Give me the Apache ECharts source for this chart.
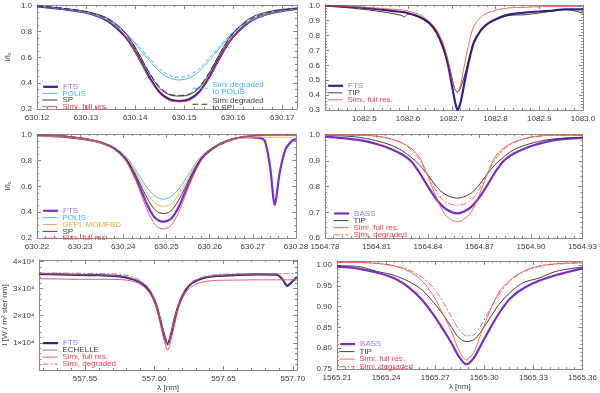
<!DOCTYPE html>
<html>
<head>
<meta charset="utf-8">
<script src="https://cdn.jsdelivr.net/npm/echarts@6/dist/echarts.min.js"></script>
<style>
  html, body { margin: 0; padding: 0; background: #fff; }
  #chart { width: 600px; height: 393px; }
</style>
</head>
<body>
<div id="chart"></div>
<script>
// ---- Fe I 630.15 nm (top left)
const tlWave = [630.120, 630.125, 630.130, 630.134, 630.137, 630.139, 630.141, 630.143, 630.145, 630.147,
  630.149, 630.151, 630.153, 630.155, 630.157, 630.159, 630.161, 630.164, 630.168, 630.173]
const tlFTS = [0.995, 0.975, 0.945, 0.89, 0.80, 0.71, 0.58, 0.44, 0.33, 0.275, 0.262, 0.275, 0.33, 0.44, 0.58, 0.71, 0.80, 0.89, 0.945, 0.975]
const tlPOLIS = [0.995, 0.975, 0.945, 0.895, 0.82, 0.75, 0.66, 0.57, 0.49, 0.44, 0.425, 0.44, 0.49, 0.57, 0.66, 0.75, 0.82, 0.895, 0.945, 0.975]
const tlSP = [0.997, 0.98, 0.955, 0.91, 0.83, 0.74, 0.61, 0.47, 0.36, 0.31, 0.30, 0.31, 0.36, 0.47, 0.61, 0.74, 0.83, 0.915, 0.96, 0.982]
const tlSim = [0.998, 0.98, 0.95, 0.895, 0.805, 0.71, 0.575, 0.43, 0.32, 0.265, 0.255, 0.265, 0.32, 0.43, 0.575, 0.71, 0.80, 0.885, 0.945, 0.978]
const tlSimPOLIS = [0.997, 0.978, 0.95, 0.90, 0.83, 0.76, 0.675, 0.59, 0.51, 0.46, 0.445, 0.46, 0.51, 0.59, 0.675, 0.76, 0.83, 0.90, 0.95, 0.978]
const tlSimSP = [0.997, 0.98, 0.953, 0.905, 0.825, 0.735, 0.61, 0.475, 0.37, 0.315, 0.305, 0.315, 0.37, 0.475, 0.61, 0.735, 0.825, 0.905, 0.955, 0.98]

// ---- Si I 1082.7 nm (top right)
const trWave = [1082.41, 1082.45, 1082.50, 1082.55, 1082.585, 1082.592, 1082.60, 1082.63, 1082.65, 1082.665,
  1082.68, 1082.69, 1082.70, 1082.707, 1082.713, 1082.72, 1082.73, 1082.74, 1082.75, 1082.765,
  1082.78, 1082.80, 1082.83, 1082.87, 1082.92, 1082.96, 1083.0]
const trFTS = [1.0, 0.995, 0.985, 0.97, 0.958, 0.955, 0.95, 0.92, 0.88, 0.82, 0.72, 0.62, 0.47, 0.36, 0.30,
  0.35, 0.50, 0.64, 0.75, 0.83, 0.875, 0.91, 0.94, 0.955, 0.965, 0.975, 0.975]
const trTIP = [1.0, 0.99, 0.975, 0.955, 0.935, 0.925, 0.945, 0.915, 0.88, 0.83, 0.73, 0.64, 0.52, 0.44, 0.42,
  0.45, 0.54, 0.65, 0.75, 0.83, 0.875, 0.905, 0.935, 0.94, 0.96, 0.975, 0.95]
const trSim = [1.0, 0.997, 0.99, 0.98, 0.972, 0.97, 0.965, 0.935, 0.89, 0.84, 0.75, 0.65, 0.52, 0.44, 0.42,
  0.47, 0.62, 0.76, 0.86, 0.92, 0.95, 0.97, 0.985, 0.99, 0.995, 0.995, 0.995]

// ---- Fe I 630.25 nm (middle left)
const mlWave = [630.220, 630.226, 630.231, 630.235, 630.238, 630.2405, 630.2425, 630.244, 630.2455, 630.247,
  630.2482, 630.2493, 630.2504, 630.2516, 630.2531, 630.2546, 630.2561, 630.2581, 630.2606, 630.264,
  630.268, 630.2715, 630.2728, 630.274, 630.2751, 630.2762, 630.2775, 630.279, 630.280]
const mlFTS = [0.995, 0.985, 0.965, 0.935, 0.89, 0.81, 0.69, 0.58, 0.46, 0.37, 0.335, 0.327, 0.335, 0.37, 0.46,
  0.58, 0.69, 0.81, 0.89, 0.95, 0.98, 0.975, 0.95, 0.75, 0.456, 0.70, 0.88, 0.95, 0.965]
const mlPOLIS = [0.997, 0.99, 0.97, 0.94, 0.90, 0.835, 0.745, 0.665, 0.59, 0.535, 0.508, 0.50, 0.508, 0.535, 0.59,
  0.665, 0.745, 0.835, 0.90, 0.955, 0.985, 0.995, 0.997, 0.998, 0.998, 0.998, 0.998, 0.998, 0.998]
const mlGFPI = [0.99, 0.985, 0.965, 0.935, 0.895, 0.825, 0.725, 0.635, 0.55, 0.48, 0.452, 0.445, 0.452, 0.48, 0.55,
  0.635, 0.725, 0.825, 0.895, 0.95, 0.975, 0.98, 0.98, 0.98, 0.98, 0.98, 0.98, 0.98, 0.98]
const mlSP = [0.997, 0.99, 0.97, 0.94, 0.895, 0.82, 0.71, 0.61, 0.51, 0.43, 0.397, 0.39, 0.397, 0.43, 0.51,
  0.61, 0.71, 0.82, 0.895, 0.955, 0.985, 0.995, 0.997, 0.998, 0.998, 0.998, 0.998, 0.998, 0.998]
const mlSim = [0.997, 0.99, 0.97, 0.94, 0.89, 0.805, 0.675, 0.55, 0.42, 0.32, 0.28, 0.27, 0.28, 0.32, 0.42,
  0.55, 0.675, 0.805, 0.89, 0.955, 0.985, 0.995, 0.997, 0.998, 0.998, 0.998, 0.998, 0.998, 0.998]

// ---- Fe I 1564.85 nm (middle right)
const mrWave = [1564.780, 1564.792, 1564.802, 1564.812, 1564.819, 1564.825, 1564.830, 1564.835, 1564.840, 1564.845,
  1564.850, 1564.857, 1564.864, 1564.869, 1564.874, 1564.879, 1564.884, 1564.889, 1564.895, 1564.902,
  1564.912, 1564.922, 1564.930]
const mrBASS = [0.995, 0.988, 0.979, 0.962, 0.945, 0.925, 0.90, 0.855, 0.80, 0.75, 0.715, 0.696, 0.715, 0.75, 0.80,
  0.855, 0.90, 0.925, 0.945, 0.962, 0.979, 0.987, 0.99]
const mrTIP = [1.0, 0.997, 0.99, 0.975, 0.96, 0.94, 0.915, 0.885, 0.845, 0.80, 0.77, 0.755, 0.77, 0.80, 0.845,
  0.885, 0.915, 0.94, 0.958, 0.972, 0.985, 0.99, 0.992]
const mrSim = [1.0, 1.0, 1.0, 0.995, 0.985, 0.97, 0.95, 0.915, 0.84, 0.755, 0.69, 0.663, 0.69, 0.755, 0.84,
  0.915, 0.95, 0.97, 0.985, 0.995, 1.0, 1.0, 1.0]
const mrSimDeg = [1.0, 1.0, 1.0, 0.994, 0.984, 0.968, 0.945, 0.905, 0.845, 0.78, 0.74, 0.728, 0.74, 0.78, 0.845,
  0.905, 0.945, 0.968, 0.984, 0.994, 1.0, 1.0, 1.0]

// ---- Fe I 557.61 nm (bottom left), absolute intensity
const blWave = [557.517, 557.53, 557.545, 557.56, 557.575, 557.585, 557.592, 557.597, 557.601, 557.604,
  557.607, 557.6096, 557.612, 557.615, 557.618, 557.622, 557.627, 557.635, 557.645, 557.66,
  557.675, 557.688, 557.692, 557.696, 557.6995, 557.703]
const blFTS = [35300, 35200, 35000, 34900, 34500, 33300, 31500, 28800, 24500, 19000, 13000, 9500, 13000, 19500, 24500,
  29000, 32000, 33800, 34600, 35000, 35200, 35100, 33800, 31000, 32500, 34300]
const blECHELLE = [35400, 35300, 35100, 35000, 34600, 33500, 31700, 29000, 24800, 19500, 13500, 10000, 13500, 20000, 25000,
  29300, 32200, 34000, 34700, 35100, 35300, 35200, 34000, 31500, 32800, 34400]
const blSim = [33600, 33500, 33400, 33400, 33300, 32600, 30800, 28000, 23500, 17500, 11000, 7300, 11000, 17500, 23500,
  28000, 30800, 32400, 33000, 33100, 33200, 33200, 33200, 33200, 33200, 33200]
const blSimDeg = [35700, 35700, 35600, 35500, 35200, 34200, 32200, 29300, 25000, 19500, 13500, 9000, 13500, 19500, 25000,
  29300, 32200, 34200, 35100, 35400, 35500, 35500, 35500, 35500, 35500, 35500]

// ---- Fe I 1565.29 nm (bottom right)
const brWave = [1565.210, 1565.222, 1565.234, 1565.245, 1565.254, 1565.262, 1565.269, 1565.275, 1565.280, 1565.2845,
  1565.289, 1565.2935, 1565.298, 1565.303, 1565.309, 1565.316, 1565.324, 1565.333, 1565.344, 1565.360]
const brBASS = [0.996, 0.992, 0.982, 0.968, 0.9455, 0.916, 0.88, 0.844, 0.812, 0.78, 0.761, 0.776, 0.808, 0.844, 0.884,
  0.92, 0.944, 0.9615, 0.976, 0.992]
const brTIP = [0.998, 0.997, 0.985, 0.975, 0.96, 0.94, 0.91, 0.88, 0.85, 0.825, 0.816, 0.82, 0.84, 0.87, 0.905,
  0.935, 0.958, 0.968, 0.985, 0.995]
const brSim = [1.006, 1.006, 1.004, 0.998, 0.985, 0.962, 0.925, 0.88, 0.84, 0.795, 0.772, 0.79, 0.835, 0.885, 0.935,
  0.965, 0.985, 0.997, 1.003, 1.006]
const brSimDeg = [1.006, 1.006, 1.004, 0.998, 0.988, 0.97, 0.945, 0.91, 0.875, 0.845, 0.83, 0.832, 0.855, 0.89, 0.93,
  0.962, 0.984, 0.996, 1.002, 1.005]

// legend texts ({s|..} = subscript)
const LABELS = {
  'tl-fts': 'FTS', 'tl-polis': 'POLIS', 'tl-sp': 'SP', 'tl-sim': 'Sim{s|I}, full res.',
  'tl-simpolis': 'Sim{s|I} degraded\nto POLIS', 'tl-simsp': 'Sim{s|I} degraded\nto SP',
  'tr-fts': 'FTS', 'tr-tip': 'TIP', 'tr-sim': 'Sim{s|I}, full res.',
  'ml-fts': 'FTS', 'ml-polis': 'POLIS', 'ml-gfpi': 'GFPI, MOMFBD', 'ml-sp': 'SP', 'ml-sim': 'Sim{s|I}, full res.',
  'mr-bass': 'BASS', 'mr-tip': 'TIP', 'mr-sim': 'Sim{s|I}, full res.', 'mr-simdeg': 'Sim{s|I}, degraded',
  'bl-fts': 'FTS', 'bl-echelle': 'ECHELLE', 'bl-sim': 'Sim{s|I}, full res.', 'bl-simdeg': 'Sim{s|I}, degraded',
  'br-bass': 'BASS', 'br-tip': 'TIP', 'br-sim': 'Sim{s|I}, full res.', 'br-simdeg': 'Sim{s|I}, degraded'
}

const FONT = '"Liberation Sans", "DejaVu Sans", sans-serif'
const FRAME = '#8a8a8a'
const INK = '#3a3a3a'
const C = {
  ftsDark: '#3b1f8a', ftsBright: '#7a2fc4', ftsText: '#a274e0',
  polis: '#3fb0f0', dark: '#2a2a2a', gray: '#707070',
  simPink: '#ea4868', simRed: '#f05a48', simText: '#e8434f', gfpi: '#f2a43c'
}

const grids = [], xAxis = [], yAxis = [], series = [], legend = []

const axis = (gi, c, main, pos) => ({
  gridIndex: gi, type: 'value', position: pos,
  min: c.min, max: c.max, interval: c.interval, splitNumber: c.split,
  axisLine: { show: true, onZero: false, lineStyle: { color: FRAME, width: 1 } },
  axisTick: { show: true, inside: true, length: 4, lineStyle: { color: FRAME } },
  minorTick: { show: true, splitNumber: c.minor, length: 2, lineStyle: { color: FRAME } },
  splitLine: { show: false },
  axisLabel: {
    show: main, formatter: c.fmt, fontSize: 8, color: INK, fontFamily: FONT, margin: 5,
    showMinLabel: !c.hideMin, showMaxLabel: !c.hideMax
  },
  name: main ? (c.name || '') : '', nameLocation: 'middle', nameGap: c.nameGap || 0, nameRotate: c.rot || 0,
  nameTextStyle: { fontSize: 8, color: INK, fontFamily: FONT, rich: { s: { fontSize: 5.5, verticalAlign: 'bottom', color: INK } } }
})

function panel (p) {
  const gi = grids.length
  grids.push({ left: p.box[0], top: p.box[1], width: p.box[2], height: p.box[3] })
  const xi = xAxis.length
  xAxis.push(axis(gi, p.x, true, 'bottom'), axis(gi, p.x, false, 'top'))
  const yi = yAxis.length
  yAxis.push(axis(gi, p.y, true, 'left'), axis(gi, p.y, false, 'right'))
  const widths = {}
  p.lines.forEach(l => {
    widths[l.id] = l.width || 0.9
    series.push({
      name: l.id, type: 'line', xAxisIndex: xi, yAxisIndex: yi,
      data: p.wave.map((w, i) => [w, l.values[i]]),
      symbol: 'none', showSymbol: false, smooth: 0.3, silent: true, animation: false,
      lineStyle: { color: l.color, width: l.width || 0.9, type: l.dash || 'solid' },
      itemStyle: { color: l.color }
    })
  })
  // one legend per row so the row spacing can be set exactly
  p.legends.forEach(lg => lg.items.forEach(([id, col], k) => legend.push({
    left: lg.left, top: lg.top + 1.5 + k * lg.step, orient: 'vertical', padding: 0,
    itemWidth: 15, itemHeight: 5, selectedMode: false,
    itemStyle: { opacity: 0 },
    formatter: n => LABELS[n],
    textStyle: { fontSize: 8, lineHeight: 6.5, fontFamily: FONT },
    data: [{
      name: id,
      lineStyle: { width: widths[id] },
      textStyle: {
        color: col, lineHeight: 6.5,
        rich: { s: { color: col, fontSize: 5.5, lineHeight: 6.5, verticalAlign: 'bottom', fontFamily: FONT } }
      }
    }]
  })))
}

const f1 = v => v.toFixed(1)
const f2 = v => v.toFixed(2)
const yName = { name: 'I/I{s|c}', rot: 90, nameGap: 25 }

panel({
  box: [37, 5, 260, 104], wave: tlWave,
  x: { min: 630.12, max: 630.173, interval: 0.01, minor: 5, fmt: f2, hideMax: true },
  y: { min: 0.2, max: 1.005, interval: 0.2, minor: 4, fmt: f1, hideMax: true, ...yName },
  lines: [
    { id: 'tl-fts', values: tlFTS, color: C.ftsDark, width: 2.2 },
    { id: 'tl-polis', values: tlPOLIS, color: C.polis },
    { id: 'tl-sp', values: tlSP, color: C.dark },
    { id: 'tl-sim', values: tlSim, color: C.simPink },
    { id: 'tl-simpolis', values: tlSimPOLIS, color: C.polis, dash: [4, 2] },
    { id: 'tl-simsp', values: tlSimSP, color: C.dark, dash: [6, 3] }
  ],
  legends: [
    { left: 42, top: 81.3, step: 6.6, items: [['tl-fts', C.ftsText], ['tl-polis', C.polis], ['tl-sp', INK], ['tl-sim', C.simText]] },
    { left: 192, top: 79.5, step: 16, items: [['tl-simpolis', C.polis], ['tl-simsp', INK]] }
  ]
})

panel({
  box: [325, 5, 258, 105], wave: trWave,
  x: { min: 1082.41, max: 1083.0, split: 6, minor: 5, fmt: f1, hideMin: true },
  y: { min: 0.3, max: 1.005, interval: 0.1, minor: 5, fmt: f1, hideMax: true },
  lines: [
    { id: 'tr-fts', values: trFTS, color: C.ftsDark, width: 2.2 },
    { id: 'tr-tip', values: trTIP, color: C.dark },
    { id: 'tr-sim', values: trSim, color: C.simRed }
  ],
  legends: [
    { left: 327, top: 80.3, step: 7, items: [['tr-fts', C.ftsText], ['tr-tip', INK], ['tr-sim', C.simText]] }
  ]
})

panel({
  box: [37, 134, 259, 104], wave: mlWave,
  x: { min: 630.22, max: 630.28, interval: 0.01, minor: 5, fmt: f2 },
  y: { min: 0.2, max: 1.005, interval: 0.2, minor: 4, fmt: f1, hideMax: true, ...yName },
  lines: [
    { id: 'ml-fts', values: mlFTS, color: C.ftsBright, width: 2.2 },
    { id: 'ml-polis', values: mlPOLIS, color: C.polis },
    { id: 'ml-gfpi', values: mlGFPI, color: C.gfpi },
    { id: 'ml-sp', values: mlSP, color: C.dark },
    { id: 'ml-sim', values: mlSim, color: C.simPink }
  ],
  legends: [
    { left: 42, top: 205.3, step: 6.85, items: [['ml-fts', C.ftsText], ['ml-polis', C.polis], ['ml-gfpi', C.gfpi], ['ml-sp', INK], ['ml-sim', C.simText]] }
  ]
})

panel({
  box: [325, 134, 258, 104], wave: mrWave,
  x: { min: 1564.78, max: 1564.93, interval: 0.03, minor: 6, fmt: f2 },
  y: { min: 0.6, max: 1.005, interval: 0.1, minor: 5, fmt: f1, hideMax: true },
  lines: [
    { id: 'mr-bass', values: mrBASS, color: C.ftsBright, width: 2.2 },
    { id: 'mr-tip', values: mrTIP, color: C.dark },
    { id: 'mr-sim', values: mrSim, color: C.simRed },
    { id: 'mr-simdeg', values: mrSimDeg, color: C.simRed, dash: [6, 2, 2, 2] }
  ],
  legends: [
    { left: 333, top: 208, step: 7.1, items: [['mr-bass', C.ftsText], ['mr-tip', INK], ['mr-sim', C.simText], ['mr-simdeg', C.simText]] }
  ]
})

panel({
  box: [37, 260, 260, 110], wave: blWave,
  x: { min: 557.517, max: 557.703, split: 4, minor: 5, fmt: f2, hideMin: true, hideMax: true, name: 'λ [nm]', nameGap: 13 },
  y: { min: 0, max: 40500, interval: 10000, minor: 5, fmt: v => (v / 10000) + '×10⁴', hideMin: true, hideMax: true,
    name: 'I [W / m² ster nm]', rot: 90, nameGap: 29 },
  lines: [
    { id: 'bl-fts', values: blFTS, color: C.ftsDark, width: 2.2 },
    { id: 'bl-echelle', values: blECHELLE, color: C.gray },
    { id: 'bl-sim', values: blSim, color: C.simPink },
    { id: 'bl-simdeg', values: blSimDeg, color: C.simPink, dash: [6, 2, 2, 2] }
  ],
  legends: [
    { left: 42, top: 337.6, step: 7, items: [['bl-fts', C.ftsText], ['bl-echelle', INK], ['bl-sim', C.simText], ['bl-simdeg', C.simText]] }
  ]
})

panel({
  box: [337, 261, 246, 108], wave: brWave,
  x: { min: 1565.21, max: 1565.36, interval: 0.03, minor: 6, fmt: f2, name: 'λ [nm]', nameGap: 13 },
  y: { min: 0.75, max: 1.0096, interval: 0.05, minor: 5, fmt: f2, hideMax: true },
  lines: [
    { id: 'br-bass', values: brBASS, color: C.ftsBright, width: 2.2 },
    { id: 'br-tip', values: brTIP, color: C.dark },
    { id: 'br-sim', values: brSim, color: C.simRed },
    { id: 'br-simdeg', values: brSimDeg, color: C.simRed, dash: [6, 2, 2, 2] }
  ],
  legends: [
    { left: 339, top: 338.6, step: 7.5, items: [['br-bass', C.ftsText], ['br-tip', INK], ['br-sim', C.simText], ['br-simdeg', C.simText]] }
  ]
})

const chart = echarts.init(document.getElementById('chart'), null, { renderer: 'canvas' })
chart.setOption({
  animation: false,
  backgroundColor: '#fff',
  grid: grids, xAxis, yAxis, series, legend
})
</script>
</body>
</html>
